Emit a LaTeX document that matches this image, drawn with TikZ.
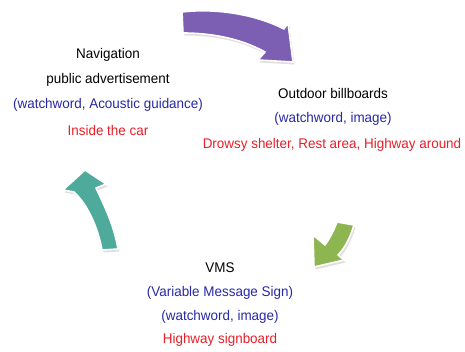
\documentclass[tikz,border=0pt]{standalone}
\usepackage{fontspec}
\setmainfont[FakeStretch=0.96]{Liberation Sans}
\usetikzlibrary{calc}
\definecolor{cycpurple}{RGB}{124,94,178}
\definecolor{cycgreen}{RGB}{141,181,80}
\definecolor{cycteal}{RGB}{78,170,155}
\definecolor{txtblue}{RGB}{40,40,165}
\definecolor{txtred}{RGB}{232,30,40}
\tikzset{
  lbl/.style={inner sep=0pt, anchor=center, font=\fontsize{14}{16}\selectfont},
  black lbl/.style={lbl, text=black},
  blue lbl/.style={lbl, text=txtblue},
  red lbl/.style={lbl, text=txtred},
  arrow shadow/.style={fill=black!35, opacity=0.35, draw=none},
  arrow body/.style={draw=white, line width=1.6pt, line join=round},
}
\begin{document}
\begin{tikzpicture}[x=1pt, y=-1pt]
  \useasboundingbox (0,0) rectangle (465,352);
  \fill[white] (0,0) rectangle (465,352);

  % purple arrow: navigation -> outdoor billboards
  \def\purplepath{(182,12) .. controls (215,8) and (255,14) .. (284,29)
    -- (288,23) -- (293,62) -- (258,60) -- (265,52)
    .. controls (240,38) and (210,33) .. (183,33) -- cycle}
  \fill[arrow shadow, shift={(1.5,2.5)}] \purplepath;
  \filldraw[arrow body, fill=cycpurple] \purplepath;

  % green arrow: outdoor billboards -> VMS
  \def\greenpath{(337,222) -- (354,225) .. controls (350,238) and (345,248) .. (338,255)
    -- (344,260) -- (314,267) -- (313,235) -- (325,245)
    .. controls (330,238) and (334,230) .. (337,222) -- cycle}
  \fill[arrow shadow, shift={(1.5,2.5)}] \greenpath;
  \filldraw[arrow body, fill=cycgreen] \greenpath;

  % teal arrow: VMS -> navigation
  \def\tealpath{(85,170) -- (106,184) -- (96,188)
    .. controls (104,205) and (114,225) .. (118,249) -- (102,250)
    .. controls (98,228) and (88,205) .. (74,192) -- (63,190) -- cycle}
  \fill[arrow shadow, shift={(1.5,2.5)}] \tealpath;
  \filldraw[arrow body, fill=cycteal] \tealpath;

  % navigation group
  \node[black lbl] (nav)   at (108,55)  {Navigation};
  \node[black lbl] (navpa) at (108,80)  {public advertisement};
  \node[blue lbl]  (navww) at (108,105) {(watchword, Acoustic guidance)};
  \node[red lbl]   (navin) at (108,130) {Inside the car};

  % outdoor billboards group
  \node[black lbl] (odb)   at (333,93)  {Outdoor billboards};
  \node[blue lbl]  (odbww) at (333,119) {(watchword, image)};
  \node[red lbl]   (odbpl) at (332,145) {Drowsy shelter, Rest area, Highway around};

  % VMS group
  \node[black lbl] (vms)   at (220,268) {VMS};
  \node[blue lbl]  (vmsvm) at (220,293) {(Variable Message Sign)};
  \node[blue lbl]  (vmsww) at (220,317) {(watchword, image)};
  \node[red lbl]   (vmshw) at (220,340) {Highway signboard};
\end{tikzpicture}
\end{document}
